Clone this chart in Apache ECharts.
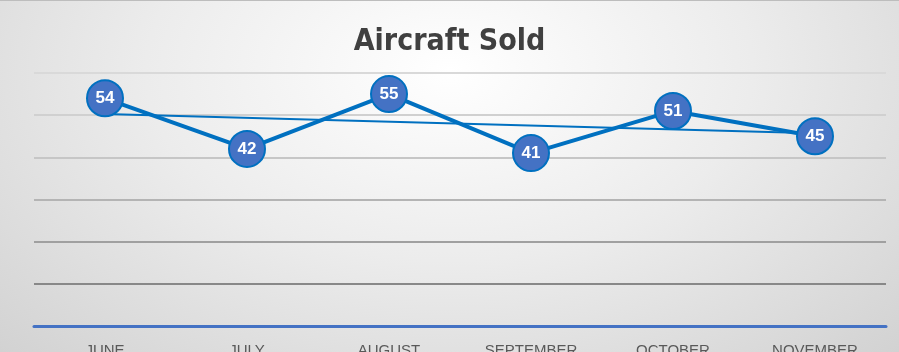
<!DOCTYPE html>
<html>
<head>
<meta charset="utf-8">
<script src="https://cdn.jsdelivr.net/npm/echarts@6/dist/echarts.min.js"></script>
<style>
  html, body { margin: 0; padding: 0; }
  #wrap { position: relative; width: 899px; height: 352px; overflow: hidden;
    background: radial-gradient(ellipse 75% 120% at 50% 20%, #ffffff 0%, #ececec 45%, #cfcfcf 100%); }
  #wrap:before { content: ""; position: absolute; left: 0; top: 0; right: 0; height: 1px; background: #bdbdbd; }
  #chart { width: 899px; height: 352px; }
</style>
</head>
<body>
<div id="wrap"><div id="chart"></div></div>
<script>
// =====================
// Data
// =====================
const MONTHS = ["JUNE", "JULY", "AUGUST", "SEPTEMBER", "OCTOBER", "NOVEMBER"]
const SOLD = [54, 42, 55, 41, 51, 45]
// linear trend, read at first and last month
const TREND = [50.3, null, null, null, null, 45.7]

const GRID_COLORS = ["#888888", "#a0a0a0", "#b4b4b4", "#c6c6c6", "#d0d0d0", "#d9d9d9"]

const chart = echarts.init(document.getElementById("chart"))

chart.setOption({
  animation: false,
  backgroundColor: "transparent",

  title: {
    text: "Aircraft Sold",
    left: "center",
    top: 22,
    textStyle: {
      fontFamily: "'DejaVu Sans Condensed', sans-serif",
      fontWeight: "bold",
      fontSize: 30,
      color: "#404040"
    }
  },

  grid: { left: 34, right: 13, top: 73, bottom: 26, outerBoundsMode: "none", containLabel: false },

  xAxis: {
    type: "category",
    data: MONTHS,
    boundaryGap: true,
    axisLine: { lineStyle: { color: "#4472C4", width: 3 } },
    axisTick: { show: false },
    axisLabel: {
      margin: 17,
      fontFamily: "Liberation Sans",
      fontSize: 15,
      color: "#595959"
    }
  },

  yAxis: {
    type: "value",
    min: 0,
    max: 60,
    interval: 10,
    axisLabel: { show: false },
    axisLine: { show: false },
    axisTick: { show: false },
    splitLine: {
      lineStyle: { color: ["transparent"].concat(GRID_COLORS), width: 2 }
    }
  },

  series: [
    {
      name: "Trend",
      type: "line",
      data: TREND,
      connectNulls: true,
      symbol: "none",
      lineStyle: { color: "#0070C0", width: 2 },
      z: 2
    },
    {
      name: "Sold",
      type: "line",
      data: SOLD,
      symbol: "circle",
      symbolSize: 36,
      lineStyle: { color: "#0070C0", width: 4 },
      itemStyle: { color: "#4472C4", borderColor: "#0070C0", borderWidth: 2 },
      label: {
        show: true,
        position: "inside",
        color: "#ffffff",
        fontFamily: "Liberation Sans",
        fontWeight: "bold",
        fontSize: 17
      },
      z: 3
    }
  ]
})
</script>
</body>
</html>
